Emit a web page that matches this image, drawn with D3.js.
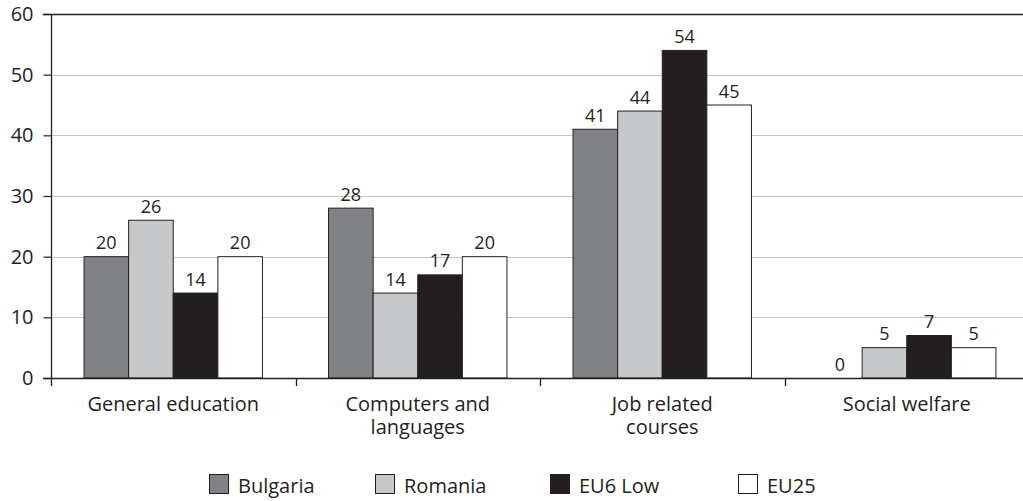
<!DOCTYPE html>
<html><head><meta charset="utf-8">
<script src="https://cdn.jsdelivr.net/npm/d3@7"></script>
<style>body{margin:0;background:#fff} svg{display:block} text{font-family:"Open Sans",sans-serif;fill:#231f20}</style>
</head><body><svg id="c" width="1023" height="501"></svg>
<script>
const categories = ["General education","Computers and languages","Job related courses","Social welfare"];
const categoryLabels = ["General education","Computers and\nlanguages","Job related\ncourses","Social welfare"];
const series = ["Bulgaria","Romania","EU6 Low","EU25"];
const bulgaria = [20,28,41,0];
const romania = [26,14,44,5];
const eu6Low = [14,17,54,7];
const eu25 = [20,20,45,5];
const yTicks = [0,10,20,30,40,50,60];
const colors = ["#808285","#c7c8ca","#231f20","#ffffff"];

const values = [bulgaria, romania, eu6Low, eu25];
const dark = "#231f20";
const svg = d3.select("#c");
const L = 51, R = 1029, T = 14, B = 378;

const x0 = d3.scaleBand().domain(categories).range([L, R]).padding(0);
const x1 = d3.scaleBand().domain(series).range([0, x0.bandwidth()]).paddingInner(0).paddingOuter(0.741);
const y = d3.scaleLinear().domain([0, 60]).range([B, T]);
const color = d3.scaleOrdinal().domain(series).range(colors);

// gridlines
svg.append("g").selectAll("line").data(yTicks.filter(v => v > 0 && v < 60)).join("line")
  .attr("x1", L).attr("x2", 1023)
  .attr("y1", d => Math.round(y(d)) + 0.5).attr("y2", d => Math.round(y(d)) + 0.5)
  .attr("stroke", "#c4c4c4").attr("stroke-width", 1.2);

// bars
const rows = [];
categories.forEach((c, i) => series.forEach((s, j) => rows.push({c, s, v: values[j][i]})));
svg.append("g").selectAll("rect").data(rows.filter(d => d.v > 0)).join("rect")
  .attr("x", d => x0(d.c) + x1(d.s))
  .attr("y", d => y(d.v))
  .attr("width", x1.bandwidth())
  .attr("height", d => y(0) - y(d.v))
  .attr("fill", d => color(d.s))
  .attr("stroke", dark).attr("stroke-width", 1);

// value labels
svg.append("g").selectAll("text").data(rows).join("text")
  .attr("x", d => x0(d.c) + x1(d.s) + x1.bandwidth() / 2)
  .attr("y", d => y(d.v) - 7.5)
  .attr("text-anchor", "middle").attr("font-size", 18)
  .text(d => d.v);

// top frame line at 60
svg.append("line").attr("x1", L - 8).attr("x2", 1023)
  .attr("y1", Math.round(y(60)) + 0.5).attr("y2", Math.round(y(60)) + 0.5)
  .attr("stroke", dark).attr("stroke-width", 1.3);

// y axis
const yAxis = svg.append("g").attr("transform", `translate(${L + 0.5},0)`)
  .call(d3.axisLeft(y).tickValues(yTicks).tickSize(8).tickPadding(10));
yAxis.select(".domain").remove();
yAxis.selectAll(".tick line").attr("stroke", dark).attr("stroke-width", 1.2);
yAxis.selectAll(".tick text").attr("font-size", 20).attr("font-family", '"Open Sans",sans-serif').attr("fill", dark);
svg.append("line").attr("x1", L + 0.5).attr("x2", L + 0.5).attr("y1", T).attr("y2", B + 8)
  .attr("stroke", dark).attr("stroke-width", 1.3);

// x axis line
svg.append("line").attr("x1", L - 8).attr("x2", 1023).attr("y1", B + 0.5).attr("y2", B + 0.5)
  .attr("stroke", dark).attr("stroke-width", 1.3);
// category boundary ticks
svg.append("g").selectAll("line").data(categories.slice(1)).join("line")
  .attr("x1", d => Math.round(x0(d)) + 0.5).attr("x2", d => Math.round(x0(d)) + 0.5)
  .attr("y1", B).attr("y2", B + 8).attr("stroke", dark).attr("stroke-width", 1.3);

// category labels
const cl = svg.append("g").selectAll("text").data(categories).join("text")
  .attr("x", d => x0(d) + x0.bandwidth() / 2)
  .attr("y", 411).attr("text-anchor", "middle").attr("font-size", 20);
cl.each(function(d, i) {
  const lines = categoryLabels[i].split("\n");
  d3.select(this).selectAll("tspan").data(lines).join("tspan")
    .attr("x", x0(d) + x0.bandwidth() / 2)
    .attr("dy", (t, k) => k === 0 ? 0 : 23)
    .text(t => t);
});

// legend
const legendX = [209, 375, 550, 738];
const lg = svg.append("g").selectAll("g").data(series).join("g")
  .attr("transform", (d, i) => `translate(${legendX[i]},0)`);
lg.append("rect").attr("x", 0.5).attr("y", 474.5).attr("width", 19).attr("height", 19)
  .attr("fill", d => color(d)).attr("stroke", dark).attr("stroke-width", 1);
lg.append("text").attr("x", 29).attr("y", 493).attr("font-size", 20).text(d => d);
</script>
</body></html>
